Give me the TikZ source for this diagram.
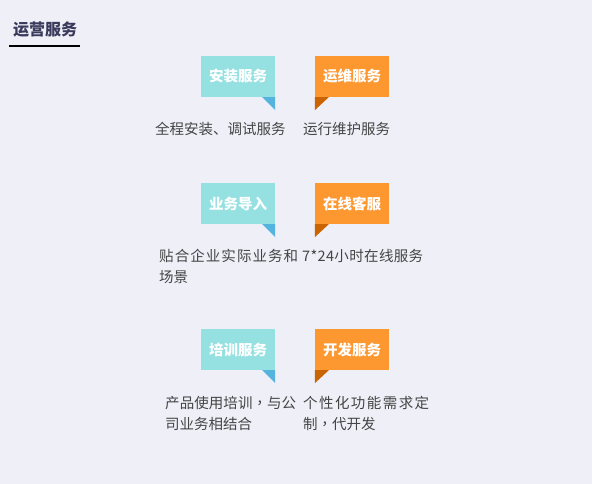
\documentclass[tikz,border=0pt]{standalone}
\usepackage{fontspec}
\setmainfont{Noto Sans CJK SC}
\newfontfamily\tcfont{Noto Sans CJK TC}
\definecolor{bgc}{HTML}{EFEFF8}
\definecolor{tealc}{HTML}{95E0E1}
\definecolor{tealtail}{HTML}{55B4DE}
\definecolor{orangec}{HTML}{FD9730}
\definecolor{orangetail}{HTML}{C96400}
\definecolor{bodytxt}{HTML}{444444}
\definecolor{titletxt}{HTML}{3A3A5C}
\newcommand\cm{{\tcfont ，}}
\begin{document}
\begin{tikzpicture}[x=1pt,y=-1pt,
  box/.style={minimum width=74pt, minimum height=41pt, inner sep=0pt,
    font=\fontsize{14.5}{14.5}\selectfont\bfseries, text=white},
  tealbox/.style={box, fill=tealc},
  orangebox/.style={box, fill=orangec},
  desc/.style={anchor=base west, inner sep=0pt, text=bodytxt,
    font=\fontsize{14.5}{14.5}\selectfont},
  titlelbl/.style={inner sep=0pt, text=titletxt,
    font=\fontsize{16}{16}\selectfont\bfseries}]
\fill[bgc] (0,0) rectangle (592,484);
\useasboundingbox (0,0) rectangle (592,484);

% title
\node[titlelbl] (title) at (45,30) {运营服务};
\draw[line width=2pt, black] (9,46.5) coordinate (ul1) -- (80,46.5) coordinate (ul2);

% row 1
\node[tealbox] (b1) at (238,76.5) {安装服务};
\node[orangebox] (b2) at (352,76.5) {运维服务};
% row 2
\node[tealbox] (b3) at (238,203.5) {业务导入};
\node[orangebox] (b4) at (352,203.5) {在线客服};
% row 3
\node[tealbox] (b5) at (238,349.5) {培训服务};
\node[orangebox] (b6) at (352,349.5) {开发服务};

% tails
\foreach \b in {b1,b3,b5}{
  \fill[tealtail] (\b.south east) -- ++(-13,0) -- ++(13,13) -- cycle;
}
\foreach \b in {b2,b4,b6}{
  \fill[orangetail] (\b.south west) -- ++(14,0) -- ++(-14,13) -- cycle;
}

% descriptions
\node[desc] (d1) at (155,134.5) {全程安装、调试服务};
\node[desc] (d2) at (303,134.5) {运行维护服务};

\node[desc] (d3a) at (159,261.5) {\makebox[139pt][s]{贴\hfill 合\hfill 企\hfill 业\hfill 实\hfill 际\hfill 业\hfill 务\hfill 和}};
\node[desc] (d3b) at (159,282.5) {场景};
\node[desc] (d4) at (302,261.5) {\makebox[121pt][s]{7\hfill *\hfill 2\hfill 4\hfill 小\hfill 时\hfill 在\hfill 线\hfill 服\hfill 务}};

\node[desc] (d5a) at (165,408.5) {\makebox[131pt][s]{产\hfill 品\hfill 使\hfill 用\hfill 培\hfill 训\hfill \cm\hfill 与\hfill 公}};
\node[desc] (d5b) at (165,429.5) {司业务相结合};
\node[desc] (d6a) at (303,408.5) {\makebox[126pt][s]{个\hfill 性\hfill 化\hfill 功\hfill 能\hfill 需\hfill 求\hfill 定}};
\node[desc] (d6b) at (303,429.5) {制\cm 代开发};
\end{tikzpicture}
\end{document}
